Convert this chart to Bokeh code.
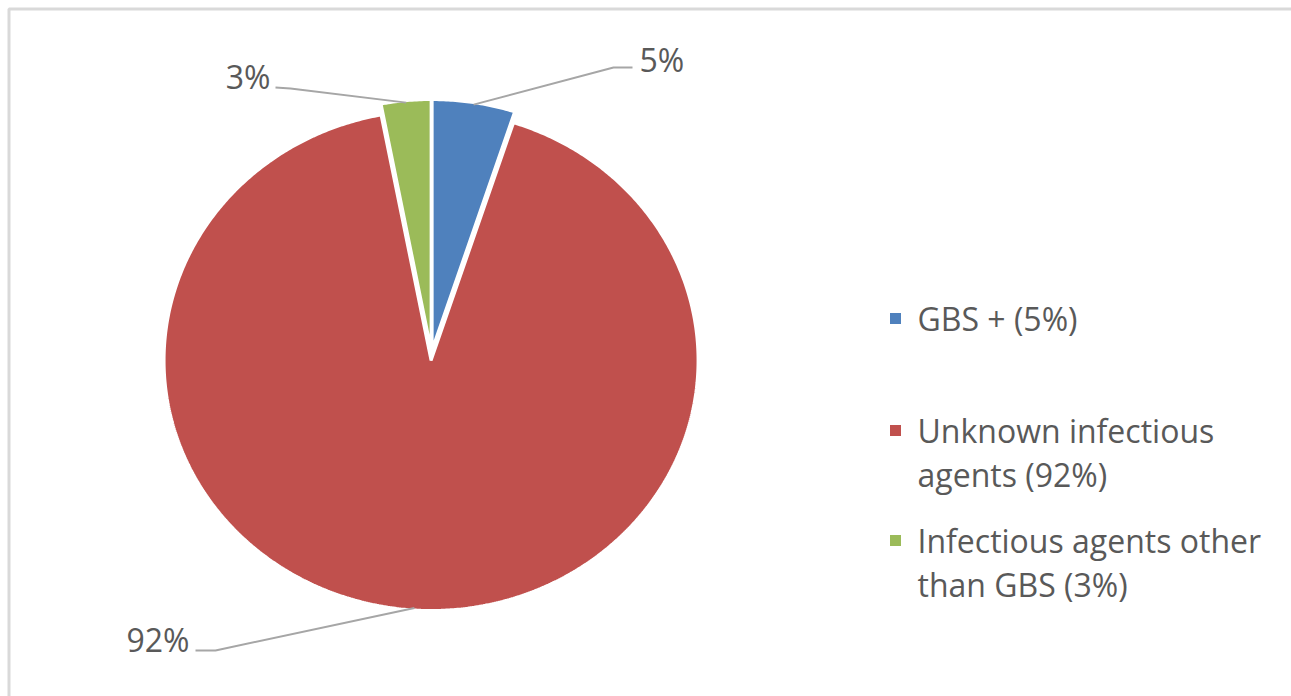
import numpy as np
from bokeh.plotting import figure
from bokeh.models import Range1d
from bokeh.core.properties import value
from bokeh.embed import file_html
from bokeh.resources import INLINE

# ---- data ----
categories = ["GBS +", "Unknown infectious agents", "Infectious agents other than GBS"]
values = [5, 92, 3]
colors = ["#4f81bd", "#c0504d", "#9bbb59"]
pct_labels = ["5%", "92%", "3%"]
legend_lines = [["GBS + (5%)"],
                ["Unknown infectious", "agents (92%)"],
                ["Infectious agents other", "than GBS (3%)"]]

# ---- layout (pixel-like data space, y downward) ----
W, H = 1291, 696
CX, CY = 431, 353
RX, RY = 267, 250
explode = [4, 7, 4]   # px outward along mid angle
FONT = value("Open Sans")
FS = "32px"
TXT = "#595959"
LEAD = "#a6a6a6"

p = figure(width=W, height=H, output_backend="svg", toolbar_location=None,
           x_range=Range1d(0, W), y_range=Range1d(H, 0), min_border=0)
p.axis.visible = False
p.grid.visible = False
p.outline_line_color = None
p.background_fill_color = "white"

# chart frame
p.quad(left=[8.5], right=[W + 10], top=[8.5], bottom=[H + 10],
       fill_color=None, line_color="#d9d9d9", line_width=3)

# slices, clockwise from 12 o'clock
fr = np.array(values, dtype=float) / np.sum(values)
ends = np.cumsum(fr) * 2 * np.pi
starts = ends - fr * 2 * np.pi
xs, ys, mids, ctrs = [], [], [], []
for s, e, ex in zip(starts, ends, explode):
    m = (s + e) / 2
    cx = CX + ex * np.sin(m)
    cy = CY - ex * np.cos(m)
    t = np.linspace(s, e, max(int((e - s) * 120), 4))
    xs.append(np.concatenate([[cx], cx + RX * np.sin(t)]).tolist())
    ys.append(np.concatenate([[cy], cy - RY * np.cos(t)]).tolist())
    mids.append(m)
    ctrs.append((cx, cy))
p.patches(xs=xs, ys=ys, fill_color=colors, line_color="white", line_width=3)

# data labels with leader lines (elbow/label positions are layout)
label_layout = {
    0: dict(elbow=(613, 67), end=(632, 67), text=(639, 59), align="left"),
    1: dict(elbow=(215, 650), end=(195, 650), text=(189, 639), align="right"),
    2: dict(elbow=(290, 88), end=(275, 87), text=(270, 76), align="right"),
}
for i, m in enumerate(mids):
    cx, cy = ctrs[i]
    ax = cx + (RX - 2) * np.sin(m)
    ay = cy - (RY - 2) * np.cos(m)
    L = label_layout[i]
    p.line(x=[ax, L["elbow"][0], L["end"][0]], y=[ay, L["elbow"][1], L["end"][1]],
           line_color=LEAD, line_width=2)
    p.text(x=[L["text"][0]], y=[L["text"][1]], text=[pct_labels[i]],
           text_font=FONT, text_font_size=FS, text_color=TXT,
           text_align=L["align"], text_baseline="middle")

# legend (y = vertical middle of first text line)
leg_x_marker, leg_x_text = 895, 917
leg_mids = [318, 430, 540]
line_gap = 44
for i, lines in enumerate(legend_lines):
    m = leg_mids[i]
    p.scatter(x=[leg_x_marker], y=[m], marker="square", size=11,
              fill_color=colors[i], line_color=None)
    for j, ln in enumerate(lines):
        p.text(x=[leg_x_text], y=[m + j * line_gap], text=[ln],
               text_font=FONT, text_font_size=FS, text_color=TXT,
               text_align="left", text_baseline="middle")

open("out.html", "w").write(file_html(p, INLINE))
